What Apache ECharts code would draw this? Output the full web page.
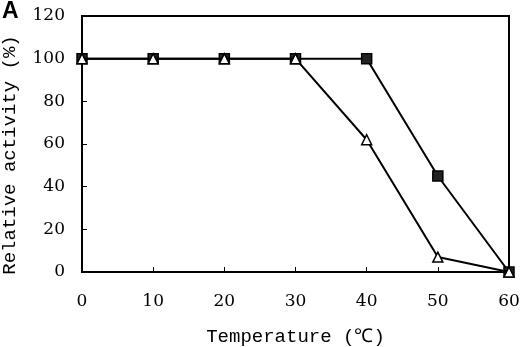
<!DOCTYPE html>
<html>
<head>
<meta charset="utf-8">
<script src="https://cdn.jsdelivr.net/npm/echarts@6/dist/echarts.min.js"></script>
<style>
  html, body { margin: 0; padding: 0; background: #fff; }
  #chart { width: 520px; height: 347px; }
</style>
</head>
<body>
<div id="chart"></div>
<script>
// temperature (°C) on x, relative activity (%) on y
const temps = [0, 10, 20, 30, 40, 50, 60];
const squareSeries = [100, 100, 100, 100, 100, 45, 0];
const triangleSeries = [100, 100, 100, 100, 62, 7, 0];

// small checkered fill for the square markers
function checkerPattern() {
  const c = document.createElement('canvas');
  c.width = 3; c.height = 3;
  const ctx = c.getContext('2d');
  ctx.fillStyle = '#222';
  ctx.fillRect(0, 0, 3, 3);
  ctx.fillStyle = '#eee';
  ctx.fillRect(1, 1, 1, 1);
  return { image: c, repeat: 'repeat' };
}

const chart = echarts.init(document.getElementById('chart'), null, { renderer: 'canvas' });

const tickFont = { color: '#000', fontFamily: 'DejaVu Serif', fontSize: 17 };
const nameFont = { color: '#000', fontFamily: 'Liberation Mono', fontSize: 19 };

const option = {
  animation: false,
  backgroundColor: '#fff',
  grid: {
    left: 82, right: 11, top: 16, bottom: 75,
    containLabel: false, outerBoundsMode: 'none',
    show: true, borderColor: '#000', borderWidth: 2
  },
  graphic: [{
    type: 'text', left: 2, top: 0,
    style: { text: 'A', fill: '#000', font: 'bold 23px "Liberation Sans"' }
  }],
  xAxis: {
    type: 'value', min: 0, max: 60, interval: 10,
    name: 'Temperature (℃)', nameLocation: 'middle', nameGap: 55,
    nameTextStyle: nameFont,
    axisLine: { lineStyle: { color: '#000', width: 2 } },
    axisTick: { inside: true, length: 5, lineStyle: { color: '#000' } },
    axisLabel: Object.assign({ margin: 21 }, tickFont),
    splitLine: { show: false }
  },
  yAxis: {
    type: 'value', min: 0, max: 120, interval: 20,
    name: 'Relative activity (%)', nameLocation: 'middle', nameGap: 63,
    nameTextStyle: Object.assign({ padding: [0, 22, 0, 0] }, nameFont),
    axisLine: { show: true, lineStyle: { color: '#000', width: 2 } },
    axisTick: { show: true, inside: true, length: 5, lineStyle: { color: '#000' } },
    axisLabel: Object.assign({ margin: 17 }, tickFont),
    splitLine: { show: false }
  },
  series: [
    {
      name: 'square',
      type: 'line',
      data: temps.map((t, i) => [t, squareSeries[i]]),
      symbol: 'rect',
      symbolSize: 10,
      lineStyle: { color: '#000', width: 2 },
      itemStyle: { color: checkerPattern(), borderColor: '#000', borderWidth: 1.5 },
      z: 2
    },
    {
      name: 'triangle',
      type: 'line',
      data: temps.map((t, i) => [t, triangleSeries[i]]),
      symbol: 'triangle',
      symbolSize: 10,
      showAllSymbol: true,
      lineStyle: { color: '#000', width: 2 },
      itemStyle: { color: '#fff', borderColor: '#000', borderWidth: 1.5 },
      z: 3
    }
  ]
};

chart.setOption(option);
</script>
</body>
</html>
